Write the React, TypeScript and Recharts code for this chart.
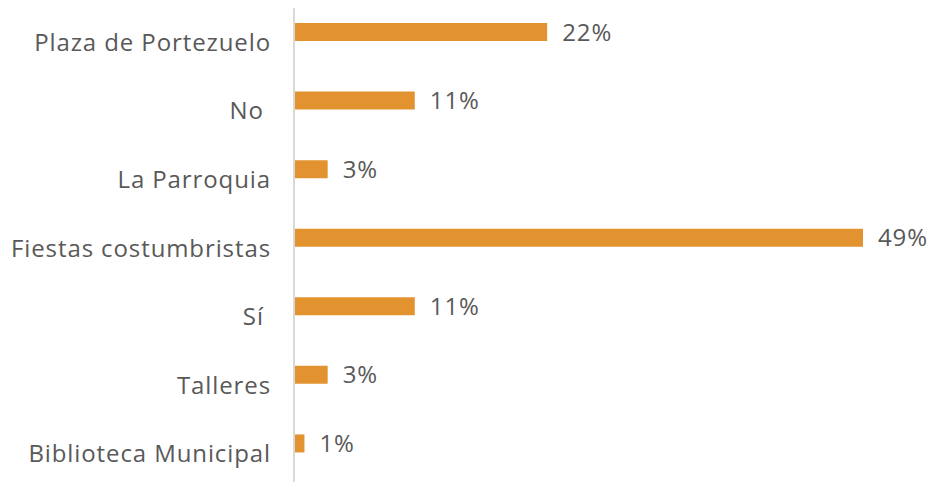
import { Bar, BarChart, LabelList, XAxis, YAxis } from "recharts";

const categories = [
  "Plaza de Portezuelo",
  "No\u00a0",
  "La Parroquia",
  "Fiestas costumbristas",
  "Sí\u00a0",
  "Talleres",
  "Biblioteca Municipal",
];
const shares = [21.8, 10.4, 2.9, 49, 10.4, 2.9, 0.9];
const shareLabels = ["22%", "11%", "3%", "49%", "11%", "3%", "1%"];

const data = categories.map((name, i) => ({
  name,
  value: shares[i],
  label: shareLabels[i],
}));

const textColor = "#595959";
const font = "'Open Sans', sans-serif";

// category names sit a bit below the bar centre in the original
function CategoryTick(props: any) {
  const { x, y, payload } = props;
  return (
    <text
      x={x}
      y={y + 9}
      textAnchor="end"
      dominantBaseline="central"
      fill={textColor}
      fontSize={24}
      fontFamily={font}
      letterSpacing={0.9}
    >
      {payload.value}
    </text>
  );
}

export default function App() {
  return (
    <div style={{ position: "absolute", left: 0, top: 0, width: 937, height: 482, background: "#fff" }}>
      <BarChart
        width={937}
        height={482}
        data={data}
        layout="vertical"
        margin={{ top: 8, right: 74, bottom: 0, left: 0 }}
      >
        <XAxis type="number" hide domain={[0, 49]} />
        <YAxis
          type="category"
          dataKey="name"
          width={294}
          tickLine={false}
          tickSize={0}
          tickMargin={23}
          padding={{ top: -10, bottom: 4 }}
          axisLine={{ stroke: "#d9d9d9", strokeWidth: 2 }}
          tick={<CategoryTick />}
          interval={0}
        />
        <Bar dataKey="value" fill="#E2932F" barSize={18} isAnimationActive={false}>
          <LabelList
            dataKey="label"
            position="right"
            offset={15}
            fill={textColor}
            fontSize={24}
            fontFamily={font}
            letterSpacing={0.9}
          />
        </Bar>
      </BarChart>
    </div>
  );
}
